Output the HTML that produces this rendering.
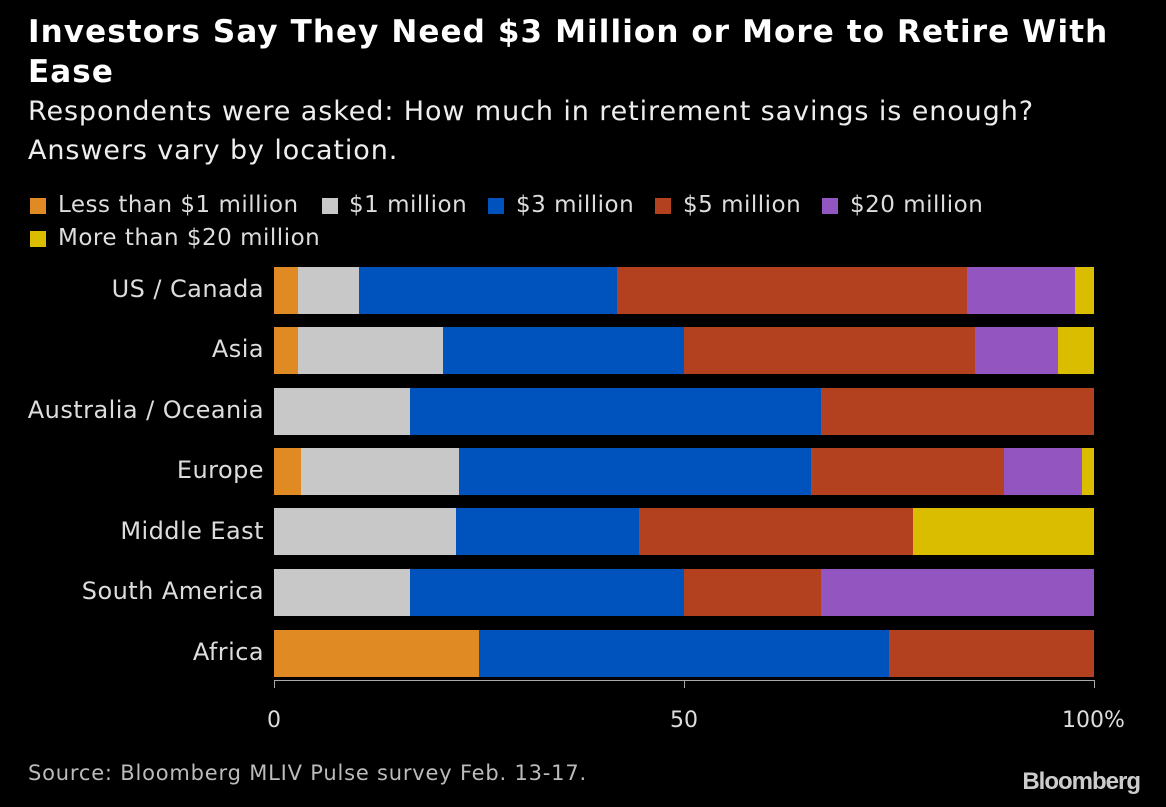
<!DOCTYPE html>
<html><head><meta charset="utf-8"><style>
body{margin:0;width:1166px;height:807px;background:#000;color:#fff;font-family:"Liberation Sans","DejaVu Sans",sans-serif;position:relative;overflow:hidden}
.a{position:absolute}
.t{left:28px;top:12px;font-size:31px;font-weight:bold;line-height:40px;font-family:"DejaVu Sans",sans-serif;letter-spacing:1.1px;white-space:nowrap}
.s{left:28px;top:92px;font-size:27px;line-height:39px;font-family:"DejaVu Sans",sans-serif;color:#eee;letter-spacing:0.9px;white-space:nowrap}
.lg{font-size:23px;color:#ddd;font-family:"DejaVu Sans",sans-serif;white-space:nowrap;letter-spacing:0.5px}
.sw{position:absolute;width:16px;height:16px}
.lab{right:902px;font-size:24px;color:#ddd;font-family:"DejaVu Sans",sans-serif;text-align:right;white-space:nowrap;letter-spacing:0.45px}
.seg{position:absolute;height:47px}
.tk{font-size:22px;color:#ddd;font-family:"DejaVu Sans",sans-serif}
</style></head><body>
<div class="a t">Investors Say They Need $3 Million or More to Retire With<br>Ease</div>
<div class="a s">Respondents were asked: How much in retirement savings is enough?<br>Answers vary by location.</div>

<div class="sw" style="left:30px;top:198px;background:#e08a23"></div><div class="a lg" style="left:58px;top:192px">Less than $1 million</div>
<div class="sw" style="left:322px;top:198px;background:#c8c8c8"></div><div class="a lg" style="left:349px;top:192px">$1 million</div>
<div class="sw" style="left:488px;top:198px;background:#0052bd"></div><div class="a lg" style="left:516px;top:192px">$3 million</div>
<div class="sw" style="left:655px;top:198px;background:#b3401f"></div><div class="a lg" style="left:683px;top:192px">$5 million</div>
<div class="sw" style="left:822px;top:198px;background:#9355c0"></div><div class="a lg" style="left:850px;top:192px">$20 million</div>
<div class="sw" style="left:30px;top:231px;background:#dbbd00"></div><div class="a lg" style="left:58px;top:225px">More than $20 million</div>

<div id="bars"></div>
<div class="a lab" style="top:275px">US / Canada</div>
<div class="a lab" style="top:335px">Asia</div>
<div class="a lab" style="top:396px">Australia / Oceania</div>
<div class="a lab" style="top:456px">Europe</div>
<div class="a lab" style="top:517px">Middle East</div>
<div class="a lab" style="top:577px">South America</div>
<div class="a lab" style="top:638px">Africa</div>

<div class="a" style="left:274px;top:680px;width:821px;height:1px;background:#aaa"></div>
<div class="a" style="left:274px;top:680px;width:1px;height:8px;background:#aaa"></div>
<div class="a" style="left:684px;top:680px;width:1px;height:8px;background:#aaa"></div>
<div class="a" style="left:1094px;top:680px;width:1px;height:8px;background:#aaa"></div>
<div class="a tk" style="left:267px;top:708px">0</div>
<div class="a tk" style="left:670px;top:708px">50</div>
<div class="a tk" style="left:1062px;top:708px">100%</div>

<div class="a" style="left:28px;top:761px;font-size:21px;color:#bbb;font-family:'DejaVu Sans',sans-serif;letter-spacing:0.8px">Source: Bloomberg MLIV Pulse survey Feb. 13-17.</div>
<div class="a" style="right:26px;top:768px;font-size:24px;font-weight:bold;color:#ccc;letter-spacing:-1px">Bloomberg</div>

<script>
var C={o:"#e08a23",g:"#c8c8c8",b:"#0052bd",r:"#b3401f",p:"#9355c0",y:"#dbbd00"};
var rows=[
[267,[["o",298],["g",359],["b",617],["r",967],["p",1075],["y",1094]]],
[327,[["o",298],["g",443],["b",684],["r",975],["p",1058],["y",1094]]],
[388,[["g",410],["b",821],["r",1094]]],
[448,[["o",301],["g",459],["b",811],["r",1004],["p",1082],["y",1094]]],
[508,[["g",456],["b",639],["r",913],["y",1094]]],
[569,[["g",410],["b",684],["r",821],["p",1094]]],
[630,[["o",479],["b",889],["r",1094]]]];
var h="";rows.forEach(function(r){var x=274;r[1].forEach(function(s){h+='<div class="seg" style="left:'+x+'px;top:'+r[0]+'px;width:'+(s[1]-x)+'px;background:'+C[s[0]]+'"></div>';x=s[1];});});
document.getElementById("bars").innerHTML=h;
</script>
</body></html>
